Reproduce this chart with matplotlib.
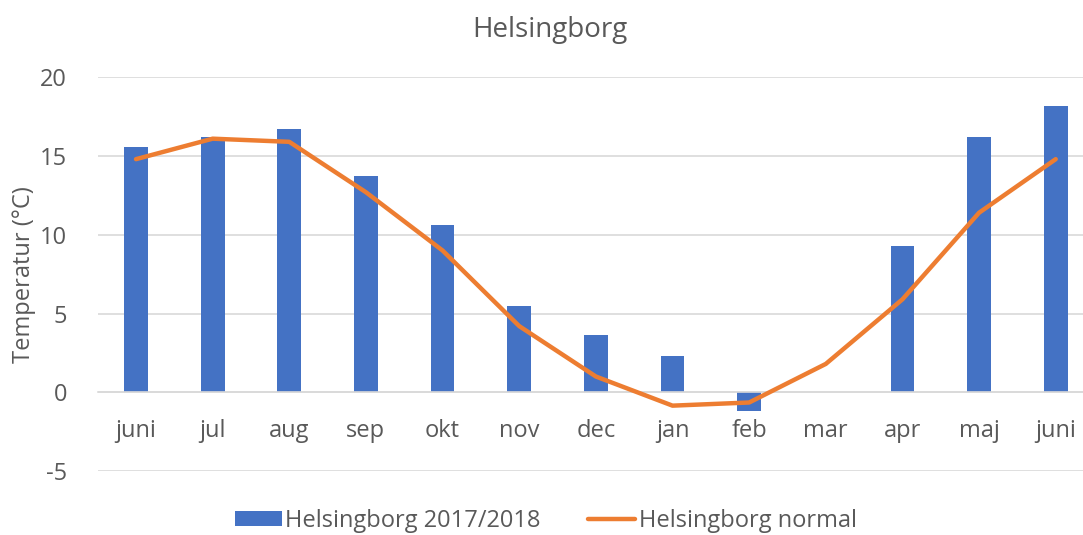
import matplotlib.pyplot as plt
import numpy as np

months = ["juni", "jul", "aug", "sep", "okt", "nov", "dec",
          "jan", "feb", "mar", "apr", "maj", "juni"]
temp_2017_2018 = [15.6, 16.2, 16.7, 13.7, 10.6, 5.5, 3.65,
                  2.3, -1.2, np.nan, 9.3, 16.2, 18.2]
temp_normal = [14.8, 16.1, 15.9, 12.7, 9.0, 4.2, 1.0,
               -0.85, -0.65, 1.8, 5.9, 11.4, 14.8]
y_ticks = [-5, 0, 5, 10, 15, 20]

text_col = "#595959"
plt.rcParams["font.family"] = ["Open Sans", "DejaVu Sans"]

fig = plt.figure(figsize=(10.83, 5.35), dpi=100)
ax = fig.add_axes([0.0902, 0.1196, 0.92, 0.736])

x = np.arange(len(months))
bars = ax.bar(x, temp_2017_2018, width=0.31, color="#4472C4",
              label="Helsingborg 2017/2018", zorder=2)
line, = ax.plot(x, temp_normal, color="#ED7D31", lw=3.2,
                solid_joinstyle="round", solid_capstyle="round",
                label="Helsingborg normal", zorder=3)

ax.set_xlim(-0.5, len(months) - 0.5)
ax.set_ylim(-5, 20)
ax.set_yticks(y_ticks)
ax.set_yticklabels([str(v) for v in y_ticks])
ax.grid(axis="y", color="#d9d9d9", lw=1.2, zorder=0)
ax.set_axisbelow(True)

for s in ["top", "right", "left"]:
    ax.spines[s].set_visible(False)
ax.spines["bottom"].set_position(("data", 0))
ax.spines["bottom"].set_color("#d9d9d9")
ax.spines["bottom"].set_linewidth(1.2)

ax.set_xticks(x)
ax.set_xticklabels(months)
ax.tick_params(axis="x", length=0, pad=19, labelsize=17, labelcolor=text_col)
ax.tick_params(axis="y", length=0, pad=22, labelsize=17, labelcolor=text_col)

ax.set_ylabel("Temperatur (°C)", fontsize=17, color=text_col, labelpad=3)

fig.text(0.508, 0.943, "Helsingborg", ha="center", va="center",
         fontsize=20, color=text_col)

fig.legend([bars, line], ["Helsingborg 2017/2018", "Helsingborg normal"],
           loc="center", bbox_to_anchor=(0.504, 0.026), ncol=2, frameon=False,
           fontsize=17, labelcolor=text_col, handlelength=2.0,
           handleheight=0.6, handletextpad=0.15, columnspacing=2.0)

fig.savefig("out.png", dpi=100)
